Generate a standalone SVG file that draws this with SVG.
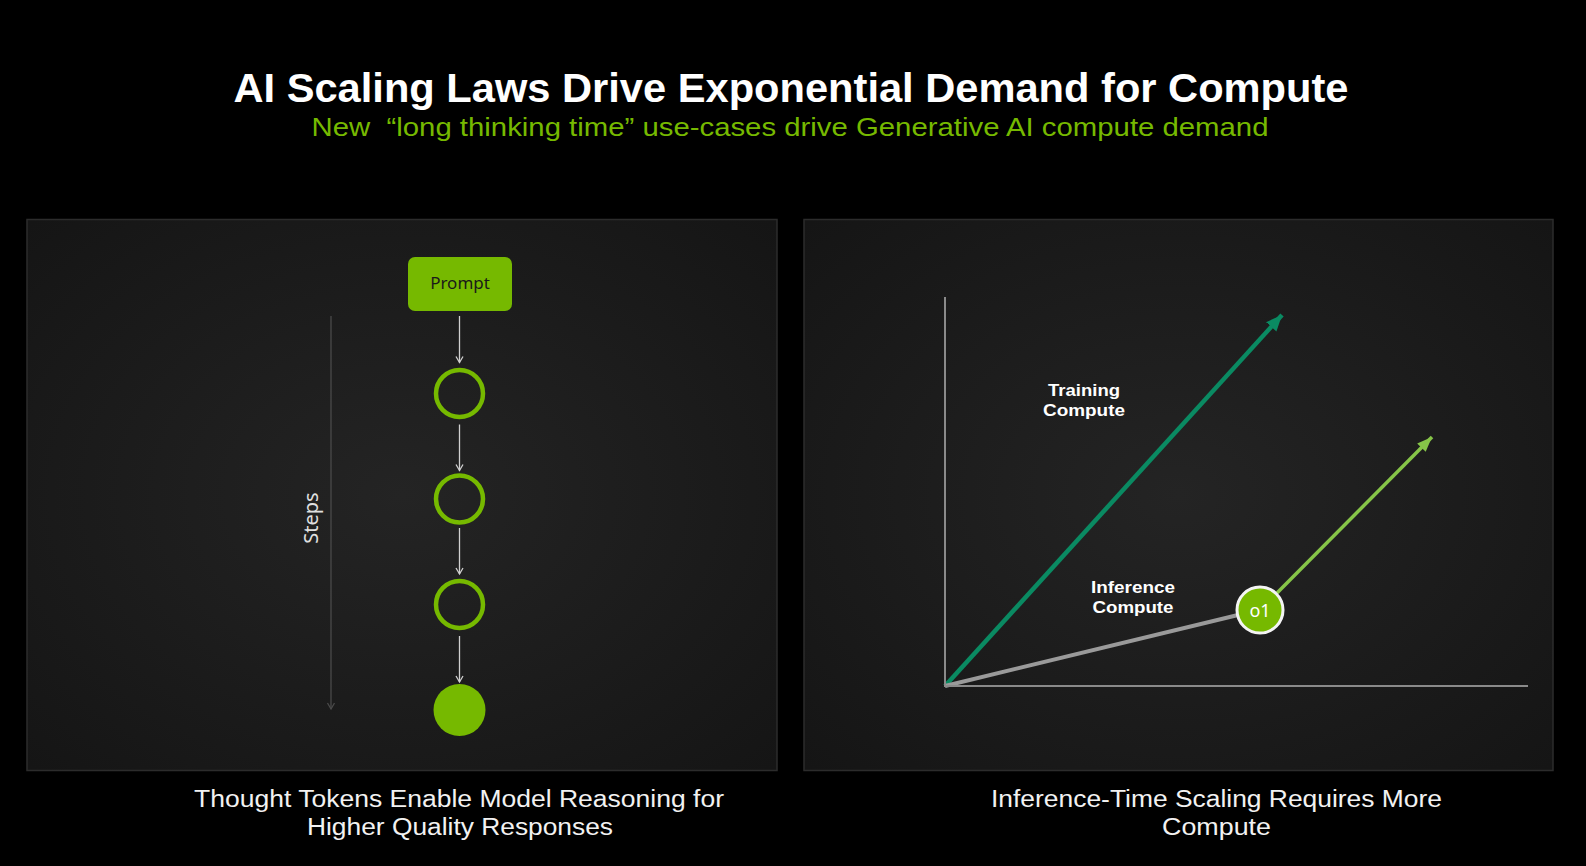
<svg xmlns="http://www.w3.org/2000/svg" width="1586" height="866" viewBox="0 0 1586 866">
<style>
.title{font-family:"Liberation Sans",Arial,sans-serif;font-weight:bold;fill:#fff}
.sub{font-family:"Liberation Sans",Arial,sans-serif;fill:#76b900}
.cap{font-family:"Liberation Sans",Arial,sans-serif;fill:#f2f2f2;font-size:23.5px}
.lbl{font-family:"Liberation Sans",Arial,sans-serif;font-weight:bold;fill:#fff;font-size:17px}
.panel{stroke:#2c2c2c;stroke-width:1.5}
.step{stroke:#d0d0d0;stroke-width:1.3;fill:none}
.ring{fill:none;stroke:#76b900;stroke-width:4.5}
</style>
<defs>
<radialGradient id="pg" cx="50%" cy="50%" r="70%">
<stop offset="0" stop-color="#242424"/>
<stop offset="1" stop-color="#151515"/>
</radialGradient>
<marker id="chev" markerUnits="userSpaceOnUse" markerWidth="12" markerHeight="12" refX="10" refY="6" orient="auto">
<path d="M4,2.5 L10,6 L4,9.5" fill="none" stroke="#d0d0d0" stroke-width="1.3"/>
</marker>
<marker id="chevd" markerUnits="userSpaceOnUse" markerWidth="12" markerHeight="12" refX="10" refY="6" orient="auto">
<path d="M4,2.5 L10,6 L4,9.5" fill="none" stroke="#4a4a4a" stroke-width="1.3"/>
</marker>
<marker id="hTrain" markerUnits="userSpaceOnUse" markerWidth="20" markerHeight="20" refX="16" refY="10" orient="auto">
<path d="M0,3 L16,10 L0,17 Z" fill="#0a8a62"/>
</marker>
<marker id="hInf" markerUnits="userSpaceOnUse" markerWidth="20" markerHeight="20" refX="16" refY="10" orient="auto">
<path d="M1,4 L16,10 L1,16 Z" fill="#86c548"/>
</marker>
</defs>
<rect width="1586" height="866" fill="#000"/>
<text class="title" x="791" y="102" font-size="40" text-anchor="middle" textLength="1115" lengthAdjust="spacingAndGlyphs">AI Scaling Laws Drive Exponential Demand for Compute</text>
<text class="sub" x="790" y="136" font-size="25.5" text-anchor="middle" xml:space="preserve" textLength="957" lengthAdjust="spacingAndGlyphs">New  “long thinking time” use-cases drive Generative AI compute demand</text>

<g id="panel-left">
<rect class="panel" x="27" y="219.5" width="750" height="551" fill="url(#pg)"/>
</g>
<g id="panel-right">
<rect class="panel" x="804" y="219.5" width="749" height="551" fill="url(#pg)"/>
</g>

<g id="steps-axis">
<line x1="331" y1="316" x2="331" y2="709" stroke="#4a4a4a" stroke-width="1.3" marker-end="url(#chevd)"/>
<text x="318" y="518" transform="rotate(-90 318 518)" text-anchor="middle" font-family="Noto Sans, Liberation Sans, sans-serif" font-size="20" fill="#e0e0e0">Steps</text>
</g>

<g id="node-prompt">
<rect x="408" y="257" width="104" height="54" rx="7" fill="#76b900"/>
<text x="460" y="289" text-anchor="middle" font-family="Noto Sans, Liberation Sans, sans-serif" font-size="17" fill="#1a1a1a">Prompt</text>
</g>
<g id="node-step1"><circle class="ring" cx="459.5" cy="393.5" r="23.5"/></g>
<g id="node-step2"><circle class="ring" cx="459.5" cy="499" r="23.5"/></g>
<g id="node-step3"><circle class="ring" cx="459.5" cy="604.5" r="23.5"/></g>
<g id="node-answer"><circle cx="459.5" cy="710" r="26" fill="#76b900"/></g>

<g id="connectors">
<line class="step" x1="459.5" y1="316" x2="459.5" y2="362.5" marker-end="url(#chev)"/>
<line class="step" x1="459.5" y1="424.5" x2="459.5" y2="470.5" marker-end="url(#chev)"/>
<line class="step" x1="459.5" y1="528" x2="459.5" y2="574" marker-end="url(#chev)"/>
<line class="step" x1="459.5" y1="636" x2="459.5" y2="682" marker-end="url(#chev)"/>
<line x1="945" y1="686" x2="1282" y2="315" stroke="#0a8a62" stroke-width="4.5" marker-end="url(#hTrain)"/>
<line x1="945" y1="686" x2="1238" y2="615" stroke="#9a9a9a" stroke-width="4"/>
<line x1="1277" y1="593" x2="1432" y2="437" stroke="#86c548" stroke-width="3.5" marker-end="url(#hInf)"/>
</g>

<g id="axes">
<line x1="945" y1="297" x2="945" y2="687" stroke="#8a8a8a" stroke-width="2"/>
<line x1="944" y1="686" x2="1528" y2="686" stroke="#8a8a8a" stroke-width="2"/>
</g>

<g id="node-o1">
<circle cx="1260" cy="610" r="23" fill="#76b900" stroke="#f4f4f4" stroke-width="3"/>
<text x="1260" y="616.5" text-anchor="middle" font-family="Noto Sans, Liberation Sans, sans-serif" font-size="18" fill="#fff">o1</text>
</g>

<g id="label-training">
<text class="lbl" x="1084" y="396" text-anchor="middle" textLength="72" lengthAdjust="spacingAndGlyphs">Training</text>
<text class="lbl" x="1084" y="416" text-anchor="middle" textLength="82" lengthAdjust="spacingAndGlyphs">Compute</text>
</g>
<g id="label-inference">
<text class="lbl" x="1133" y="593" text-anchor="middle" textLength="84" lengthAdjust="spacingAndGlyphs">Inference</text>
<text class="lbl" x="1133" y="613" text-anchor="middle" textLength="81" lengthAdjust="spacingAndGlyphs">Compute</text>
</g>

<g id="caption-left">
<text class="cap" x="459" y="807" text-anchor="middle" textLength="530" lengthAdjust="spacingAndGlyphs">Thought Tokens Enable Model Reasoning for</text>
<text class="cap" x="460" y="834.5" text-anchor="middle" textLength="306" lengthAdjust="spacingAndGlyphs">Higher Quality Responses</text>
</g>
<g id="caption-right">
<text class="cap" x="1216.5" y="807" text-anchor="middle" textLength="451" lengthAdjust="spacingAndGlyphs">Inference-Time Scaling Requires More</text>
<text class="cap" x="1216.5" y="834.5" text-anchor="middle" textLength="109" lengthAdjust="spacingAndGlyphs">Compute</text>
</g>
</svg>
